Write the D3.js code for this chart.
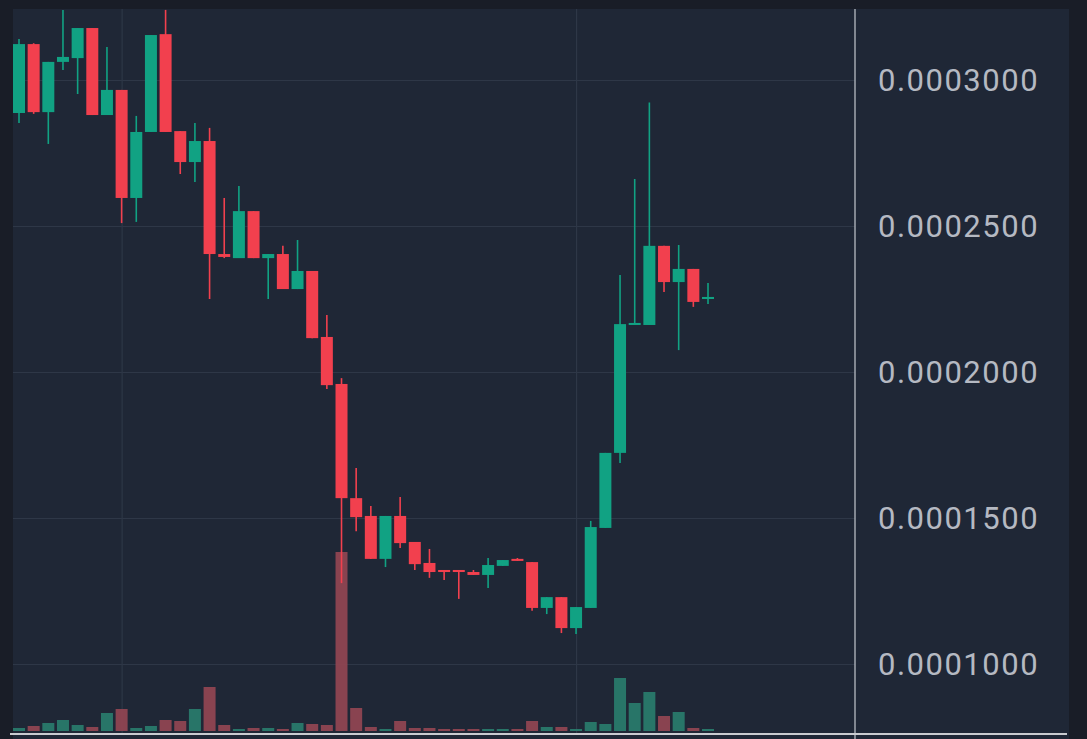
<!DOCTYPE html>
<html>
<head>
<meta charset="utf-8">
<script src="https://cdn.jsdelivr.net/npm/d3@7"></script>
<style>
  html, body { margin: 0; padding: 0; background: #191d27; }
  svg { display: block; }
</style>
</head>
<body>
<svg width="1087" height="739"></svg>
<script>

// candle data, prices
let open  = [0.0002887, 0.0003123, 0.0002890, 0.0003062, 0.0003075, 0.0003178, 0.0002880, 0.0002966,
             0.0002596, 0.0002822, 0.0003157, 0.0002825, 0.0002719, 0.0002791, 0.0002404, 0.0002390,
             0.0002551, 0.0002390, 0.0002404, 0.0002284, 0.0002346, 0.0002120, 0.0001959, 0.0001568,
             0.0001507, 0.0001360, 0.0001507, 0.0001418, 0.0001346, 0.0001322, 0.0001322, 0.0001315,
             0.0001305, 0.0001336, 0.0001360, 0.0001349, 0.0001192, 0.0001229, 0.0001123, 0.0001192,
             0.0001466, 0.0001723, 0.0002161, 0.0002161, 0.0002432, 0.0002308, 0.0002353, 0.0002250];
let high  = [0.0003140, 0.0003126, 0.0003062, 0.0003240, 0.0003178, 0.0003178, 0.0003113, 0.0002966,
             0.0002877, 0.0003154, 0.0003240, 0.0002825, 0.0002853, 0.0002836, 0.0002596, 0.0002637,
             0.0002551, 0.0002404, 0.0002432, 0.0002452, 0.0002346, 0.0002195, 0.0001979, 0.0001671,
             0.0001541, 0.0001507, 0.0001572, 0.0001418, 0.0001394, 0.0001322, 0.0001322, 0.0001322,
             0.0001363, 0.0001356, 0.0001363, 0.0001349, 0.0001229, 0.0001229, 0.0001195, 0.0001490,
             0.0001723, 0.0002332, 0.0002661, 0.0002923, 0.0002432, 0.0002435, 0.0002353, 0.0002305];
let low   = [0.0002853, 0.0002884, 0.0002781, 0.0003034, 0.0002952, 0.0002880, 0.0002880, 0.0002510,
             0.0002514, 0.0002822, 0.0002822, 0.0002678, 0.0002651, 0.0002250, 0.0002390, 0.0002390,
             0.0002390, 0.0002250, 0.0002284, 0.0002284, 0.0002116, 0.0001942, 0.0001277, 0.0001455,
             0.0001360, 0.0001332, 0.0001397, 0.0001322, 0.0001295, 0.0001288, 0.0001223, 0.0001305,
             0.0001260, 0.0001336, 0.0001353, 0.0001182, 0.0001171, 0.0001106, 0.0001103, 0.0001192,
             0.0001466, 0.0001688, 0.0002161, 0.0002161, 0.0002274, 0.0002075, 0.0002223, 0.0002233];
let close = [0.0003123, 0.0002890, 0.0003062, 0.0003079, 0.0003178, 0.0002880, 0.0002966, 0.0002596,
             0.0002822, 0.0003154, 0.0002822, 0.0002719, 0.0002791, 0.0002404, 0.0002394, 0.0002551,
             0.0002390, 0.0002404, 0.0002284, 0.0002346, 0.0002116, 0.0001955, 0.0001568, 0.0001503,
             0.0001360, 0.0001507, 0.0001414, 0.0001342, 0.0001315, 0.0001315, 0.0001315, 0.0001305,
             0.0001339, 0.0001356, 0.0001353, 0.0001192, 0.0001229, 0.0001123, 0.0001195, 0.0001469,
             0.0001723, 0.0002164, 0.0002168, 0.0002432, 0.0002308, 0.0002353, 0.0002240, 0.0002257];

// volume per candle (arbitrary units)
let volume = [3, 5, 8, 11, 6, 4, 18, 22, 3, 5, 11, 10, 22, 44, 6, 2,
              3, 3, 2, 8, 7, 6, 179, 23, 4, 2, 10, 3, 3, 2, 2, 2,
              2, 2, 2, 10, 4, 4, 2, 9, 7, 53, 28, 39, 15, 19, 3, 2];

let priceTicks = [0.0001, 0.00015, 0.0002, 0.00025, 0.0003];
let timeTicks = [7, 38];

let data = open.map(function(o, i) {
  return { i: i, o: o, h: high[i], l: low[i], c: close[i], v: volume[i] };
});

let svg = d3.select('svg');

let panelLeft = 13, panelTop = 9, panelRight = 1069, splitX = 855, bottomY = 734;

let xScale = d3.scaleLinear()
               .domain([0, 47])
               .range([19, 708]);

let yScale = d3.scaleLinear()
               .domain([0.0001, 0.0003])
               .range([664, 80]);

let volScale = d3.scaleLinear()
                 .domain([0, 200])
                 .range([731, 531]);

let bodyWidth = 12;
let green = '#11a283', red = '#f2404e';

// panel background
svg.append('rect')
   .attr('x', panelLeft)
   .attr('y', panelTop)
   .attr('width', panelRight - panelLeft)
   .attr('height', 739 - panelTop)
   .attr('fill', '#1f2736');

svg.append('clipPath')
   .attr('id', 'plotClip')
   .append('rect')
   .attr('x', panelLeft)
   .attr('y', panelTop)
   .attr('width', splitX - panelLeft)
   .attr('height', bottomY - panelTop);

// grid
let yAxis = d3.axisRight(yScale)
              .tickValues(priceTicks)
              .tickSize(splitX - panelLeft)
              .tickFormat('');

svg.append('g')
   .attr('id', 'yGridG')
   .attr('transform', 'translate(' + panelLeft + ',0)')
   .call(yAxis)
   .call(function(g) {
     g.select('.domain').remove();
     g.selectAll('line').attr('stroke', '#2e3747').attr('stroke-width', 1.2);
   });

let xAxis = d3.axisBottom(xScale)
              .tickValues(timeTicks)
              .tickSize(bottomY - panelTop)
              .tickFormat('');

svg.append('g')
   .attr('id', 'xGridG')
   .attr('transform', 'translate(0,' + panelTop + ')')
   .call(xAxis)
   .call(function(g) {
     g.select('.domain').remove();
     g.selectAll('line').attr('stroke', '#2e3747').attr('stroke-width', 1.2);
   });

let plot = svg.append('g').attr('clip-path', 'url(#plotClip)');

// volume
plot.selectAll('rect.vol')
    .data(data)
    .enter()
    .append('rect')
    .attr('class', 'vol')
    .attr('x', function(d) { return xScale(d.i) - bodyWidth / 2; })
    .attr('y', function(d) { return volScale(d.v); })
    .attr('width', bodyWidth)
    .attr('height', function(d) { return volScale(0) - volScale(d.v); })
    .attr('fill', function(d) { return d.c >= d.o ? '#29796b' : '#8f4552'; })
    .style('opacity', 0.95);

// wicks
plot.selectAll('line.wick')
    .data(data)
    .enter()
    .append('line')
    .attr('class', 'wick')
    .attr('x1', function(d) { return xScale(d.i); })
    .attr('x2', function(d) { return xScale(d.i); })
    .attr('y1', function(d) { return yScale(d.h); })
    .attr('y2', function(d) { return yScale(d.l); })
    .attr('stroke', function(d) { return d.c >= d.o ? green : red; })
    .attr('stroke-width', 1.6);

// bodies
plot.selectAll('rect.body')
    .data(data)
    .enter()
    .append('rect')
    .attr('class', 'body')
    .attr('x', function(d) { return xScale(d.i) - bodyWidth / 2; })
    .attr('y', function(d) { return yScale(Math.max(d.o, d.c)); })
    .attr('width', bodyWidth)
    .attr('height', function(d) {
      return Math.max(2, Math.abs(yScale(d.o) - yScale(d.c)));
    })
    .attr('fill', function(d) { return d.c >= d.o ? green : red; });

// price labels
svg.append('g')
   .attr('id', 'yLabelsG')
   .selectAll('text')
   .data(priceTicks)
   .enter()
   .append('text')
   .attr('x', 878)
   .attr('y', function(d) { return yScale(d); })
   .attr('dy', '0.36em')
   .attr('fill', '#b5b9c2')
   .style('font-family', 'Roboto, sans-serif')
   .style('font-size', '31px')
   .style('letter-spacing', '1.5px')
   .text(d3.format('.7f'));

// separator and bottom line
svg.append('line')
   .attr('x1', splitX).attr('x2', splitX)
   .attr('y1', panelTop).attr('y2', 739)
   .attr('stroke', '#a3a8b1')
   .attr('stroke-width', 1.5);

svg.append('line')
   .attr('x1', 10).attr('x2', panelRight - 2)
   .attr('y1', bottomY).attr('y2', bottomY)
   .attr('stroke', '#c9cbd0')
   .attr('stroke-width', 2);

</script>
</body>
</html>
